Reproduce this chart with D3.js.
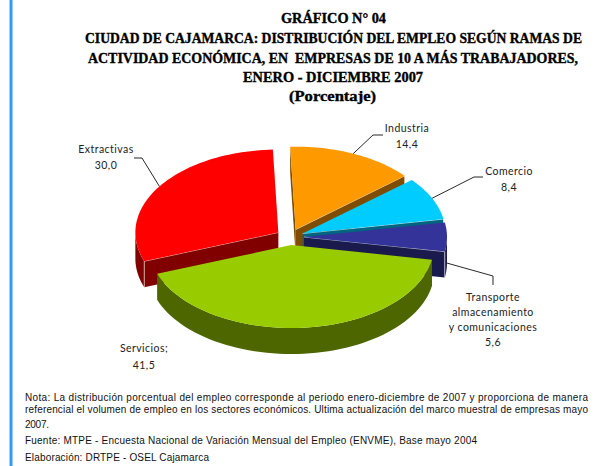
<!DOCTYPE html>
<html><head><meta charset="utf-8">
<script src="https://cdn.jsdelivr.net/npm/d3@7/dist/d3.min.js"></script>
<style>html,body{margin:0;padding:0;background:#fff}svg{display:block}</style>
</head><body><svg id="c" width="605" height="466"></svg>
<script>
const categories = ["Industria","Comercio","Transporte","Servicios","Extractivas"];
const values = [14.4,8.4,5.6,41.5,30.0];
const valueLabels = ["14,4","8,4","5,6","41,5","30,0"];
const labelLines = [["Industria"],["Comercio"],["Transporte","almacenamiento","y comunicaciones"],["Servicios;"],["Extractivas"]];
const topColors = ["#ff9900","#00ccff","#333399","#99cc00","#ff0000"];
const sideColors = ["#804d00","#006680","#1a1a4d","#4d6600","#800000"];
const titleLines = ["GRÁFICO N° 04","CIUDAD DE CAJAMARCA: DISTRIBUCIÓN DEL EMPLEO SEGÚN RAMAS DE","ACTIVIDAD ECONÓMICA, EN  EMPRESAS DE 10 A MÁS TRABAJADORES,","ENERO - DICIEMBRE 2007","(Porcentaje)"];
const noteLines = ["Nota: La distribución porcentual del empleo corresponde al periodo enero-diciembre de 2007 y proporciona de manera","referencial el volumen de empleo en los sectores económicos. Ultima actualización del marco muestral de empresas mayo","2007.","Fuente: MTPE - Encuesta Nacional de Variación Mensual del Empleo (ENVME), Base mayo 2004","Elaboración: DRTPE - OSEL Cajamarca"];

// layout (not data)
const titleLayout = [[23,281,386],[43,85,582],[63,88,578],[82,243,423],[101,289,376]];
const noteLayout = [[401,25,588],[413,25,588],[428,25,49],[444,25,477],[461,25,209]];
const labelLayout = [
 {x:407,y:132,elbow:[373,135],end:[383,135]},
 {x:509,y:175,elbow:[474,177],end:[483,177]},
 {x:493,y:300.5,elbow:[493,276],end:[493,285],lh:15},
 {x:144,y:352,lh:17},
 {x:106,y:153,elbow:[142,158],end:[134,158]}
];
const cx=290, cy=237, rx=143, k=0.58, explode=14, depth=26;
const rad=d=>d*Math.PI/180;

const svg=d3.select("#c");
svg.append("rect").attr("x",9.5).attr("y",0).attr("width",3).attr("height",466).attr("fill","#3399ff");

const pie=d3.pie().sort(null).startAngle(rad(-2.2)).endAngle(rad(357.8));
const arcs=pie(values).map((d,i)=>{
  const mid=(d.startAngle+d.endAngle)/2;
  return {...d,i,mid,ox:cx+explode*Math.sin(mid),oy:cy-explode*k*Math.cos(mid)};
});
const P=(s,a,dz=0)=>[s.ox+rx*Math.sin(a),s.oy-rx*k*Math.cos(a)+dz];
const rim=(s,a0,a1,dz=0)=>d3.range(0,61).map(j=>P(s,a0+(a1-a0)*j/60,dz));
const line=d3.line();
const closed=pts=>line(pts)+"Z";

const order=[0,1,4,2,3];
const g=svg.append("g");
order.forEach(i=>{
  const s=arcs[i];
  const apex=[s.ox,s.oy], apexB=[s.ox,s.oy+depth];
  const face=a=>{
    const p=P(s,a),q=P(s,a,depth);
    g.append("path").attr("d",closed([apex,p,q,apexB])).attr("fill",sideColors[i]);
  };
  const edge=a=>{
    if(Math.abs(Math.sin(a))<0.3) return;
    const p=P(s,a),q=P(s,a,depth);
    g.append("path").attr("d",line([apex,p,q])).attr("fill","none").attr("stroke","#fff").attr("stroke-opacity",.75).attr("stroke-width",.8);
  };
  const a0=s.startAngle, a1=s.endAngle;
  const norm=a=>((a%(2*Math.PI))+2*Math.PI)%(2*Math.PI);
  const endVisible=norm(a1)<Math.PI, startVisible=norm(a0)>Math.PI;
  if(endVisible) face(a1);
  if(startVisible) face(a0);
  const w0=Math.max(a0,Math.PI/2), w1=Math.min(a1,3*Math.PI/2);
  if(w1>w0){
    const top=rim(s,w0,w1), bot=rim(s,w0,w1,depth).reverse();
    g.append("path").attr("d",closed(top.concat(bot))).attr("fill",sideColors[i]);
  }
  if(endVisible) edge(a1);
  if(startVisible) edge(a0);
  g.append("path").attr("d",closed([apex].concat(rim(s,a0,a1)))).attr("fill",topColors[i]);
});

// leaders and labels
const font="Lato, 'Open Sans', sans-serif";
arcs.forEach((s,i)=>{
  const L=labelLayout[i];
  if(L.elbow){
    const dz=categories[i]==="Transporte"?depth:0;
    svg.append("path").attr("d",line([P(s,s.mid,dz),L.elbow,L.end])).attr("fill","none").attr("stroke","#111").attr("stroke-width",.9);
  }
  const lines=labelLines[i].concat([valueLabels[i]]);
  const lh=L.lh||16;
  lines.forEach((t,j)=>{
    svg.append("text").attr("x",L.x).attr("y",L.y+j*lh).attr("text-anchor","middle")
      .attr("font-family",font).attr("font-size",10.5).attr("letter-spacing",.45).attr("fill","#222").text(t);
  });
});

// title
titleLines.forEach((t,i)=>{
  const [y,x0,x1]=titleLayout[i];
  svg.append("text").attr("x",x0).attr("y",y).attr("xml:space","preserve").style("white-space","pre")
    .attr("font-family","'Liberation Serif', serif").attr("font-weight","bold").attr("font-size",14).attr("fill","#000")
    .attr("stroke","#000").attr("stroke-width",.35)
    .attr("textLength",x1-x0).attr("lengthAdjust","spacingAndGlyphs").text(t);
});
// notes
noteLines.forEach((t,i)=>{
  const [y,x0,x1]=noteLayout[i];
  svg.append("text").attr("x",x0).attr("y",y)
    .attr("font-family","'Liberation Sans', Arial, sans-serif").attr("font-size",10).attr("fill","#111")
    .attr("textLength",x1-x0).attr("lengthAdjust","spacing").text(t);
});
</script></body></html>
